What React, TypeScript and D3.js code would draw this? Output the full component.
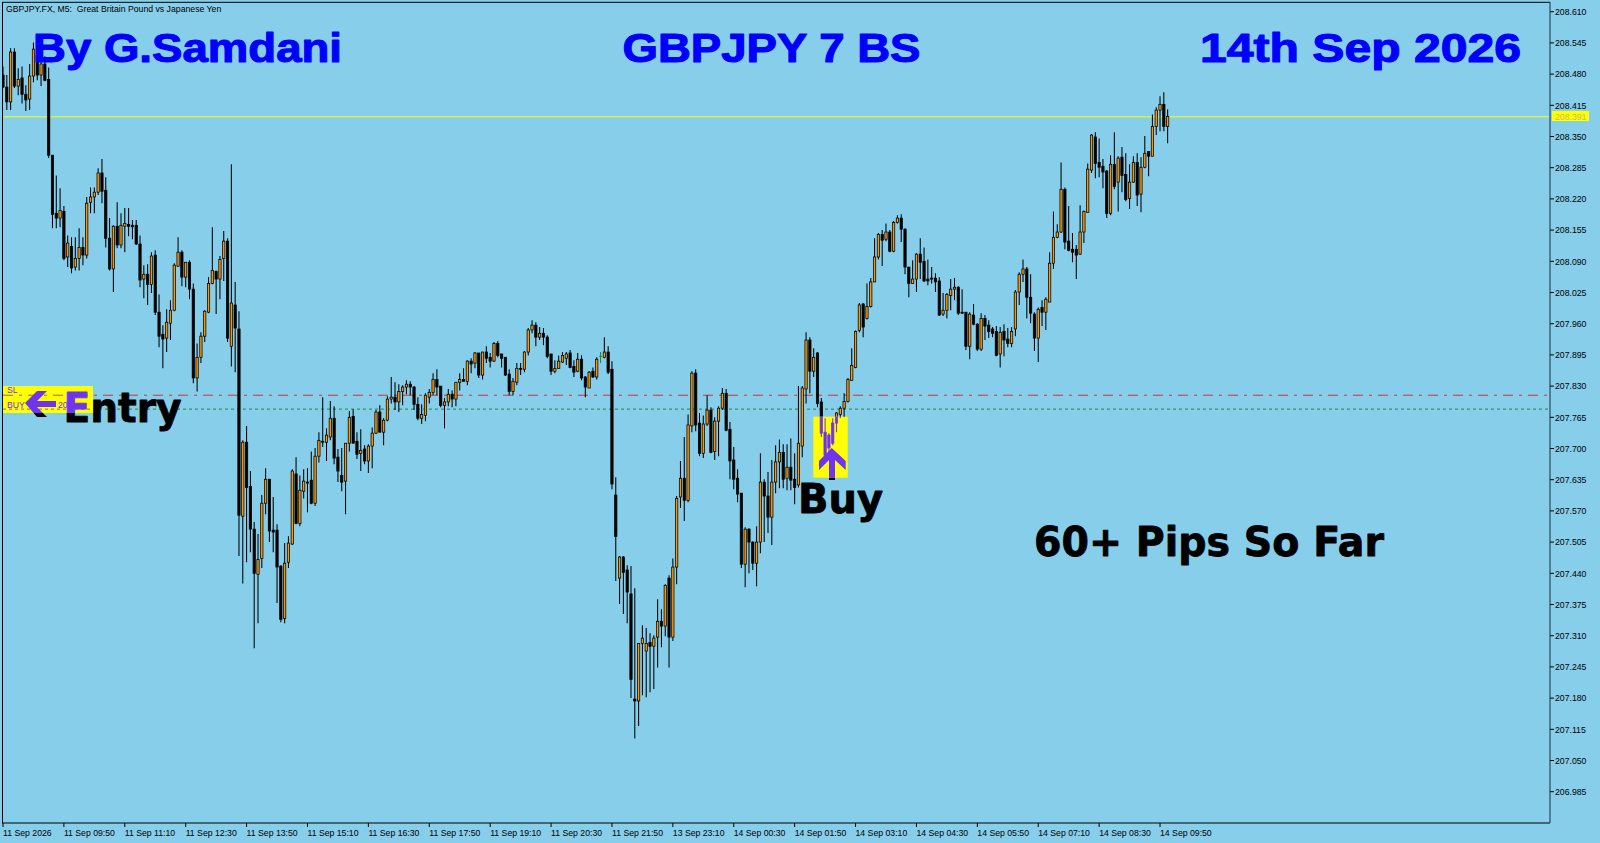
import React from "react";
import * as d3 from "d3";

const opens = [
208.478,208.453,208.422,208.526,208.455,208.472,208.438,208.428,208.476,208.519,
208.478,208.501,208.469,208.311,208.190,208.180,208.194,208.099,208.121,208.078,
208.096,208.119,208.103,208.213,208.224,208.234,208.274,208.238,208.138,208.074,
208.163,208.124,208.163,208.167,208.165,208.165,208.126,208.053,208.063,208.042,
208.103,207.984,207.938,207.930,207.961,207.988,208.080,208.109,208.057,208.088,
208.032,207.847,207.890,207.934,207.984,208.044,208.069,208.053,208.096,208.132,
207.913,207.999,207.949,207.559,207.713,207.621,207.532,207.438,207.471,207.586,
207.636,207.530,207.530,207.455,207.346,207.463,207.501,207.647,207.544,207.611,
207.630,207.634,207.586,207.684,207.715,207.713,207.724,207.763,207.682,207.644,
207.632,207.711,207.767,207.715,207.690,207.699,207.674,207.705,207.732,207.776,
207.734,207.759,207.803,207.807,207.797,207.819,207.828,207.834,207.828,207.792,
207.763,207.769,207.807,207.817,207.844,207.830,207.790,207.797,207.813,207.803,
207.838,207.844,207.840,207.882,207.878,207.899,207.853,207.901,207.890,207.882,
207.919,207.897,207.890,207.855,207.819,207.838,207.867,207.865,207.901,207.947,
207.957,207.932,207.940,207.932,207.897,207.861,207.867,207.880,207.888,207.899,
207.871,207.861,207.886,207.849,207.826,207.861,207.849,207.892,207.890,207.901,
207.865,207.603,207.430,207.474,207.447,207.397,207.178,207.174,207.294,207.278,
207.296,207.288,207.307,207.340,207.330,207.430,207.307,207.453,207.599,207.638,
207.592,207.747,207.857,207.753,207.690,207.751,207.780,207.694,207.757,207.784,
207.815,207.740,207.676,207.638,207.607,207.459,207.532,207.505,207.461,207.505,
207.630,207.601,207.557,207.630,207.672,207.692,207.638,207.661,207.636,207.624,
207.705,207.824,207.926,207.861,207.899,207.797,207.734,207.728,207.711,207.753,
207.771,207.784,207.798,207.842,207.869,207.946,208.001,207.971,207.996,208.047,
208.099,208.146,208.136,208.151,208.111,208.171,208.180,208.157,208.078,208.044,
208.053,208.105,208.090,208.053,208.055,208.055,208.049,207.980,207.988,208.019,
208.032,208.036,207.984,207.984,207.913,207.978,207.959,207.907,207.971,207.957,
207.949,207.944,207.897,207.944,207.928,207.919,207.949,208.026,208.063,208.074,
208.015,207.980,207.930,207.994,207.984,208.005,208.086,208.140,208.151,208.240,
208.132,208.115,208.115,208.105,208.151,208.192,208.280,208.349,208.296,208.288,
208.278,208.190,208.292,208.255,208.307,208.271,208.221,208.255,208.296,208.230,
208.286,208.319,208.309,208.371,208.405,208.417,208.371];

const highs = [
208.496,208.478,208.534,208.534,208.492,208.496,208.457,208.501,208.546,208.540,
208.515,208.517,208.494,208.311,208.269,208.242,208.205,208.144,208.140,208.140,
208.159,208.140,208.224,208.244,208.244,208.284,208.303,208.265,208.180,208.165,
208.213,208.190,208.201,208.201,208.176,208.176,208.144,208.082,208.084,208.109,
208.113,208.021,207.957,207.990,208.009,208.086,208.140,208.113,208.088,208.092,
208.044,207.919,207.942,207.988,208.057,208.161,208.071,208.101,208.153,208.138,
208.292,208.047,207.986,207.717,207.747,207.653,207.547,207.522,207.603,207.659,
207.636,207.599,207.542,207.457,207.503,207.517,207.657,207.682,207.644,207.657,
207.659,207.694,207.701,207.734,207.807,207.742,207.799,207.788,207.699,207.701,
207.711,207.778,207.782,207.734,207.740,207.707,207.709,207.744,207.780,207.790,
207.763,207.809,207.849,207.838,207.834,207.832,207.842,207.840,207.830,207.807,
207.792,207.815,207.824,207.857,207.865,207.830,207.805,207.824,207.821,207.838,
207.857,207.867,207.884,207.888,207.901,207.899,207.901,207.913,207.899,207.922,
207.924,207.897,207.890,207.865,207.847,207.878,207.878,207.903,207.951,207.967,
207.963,207.953,207.951,207.936,207.897,207.884,207.894,207.901,207.901,207.905,
207.884,207.899,207.894,207.851,207.861,207.869,207.890,207.901,207.932,207.913,
207.882,207.640,207.476,207.476,207.457,207.455,207.409,207.294,207.332,207.326,
207.315,207.311,207.386,207.365,207.417,207.436,207.471,207.601,207.674,207.724,
207.771,207.861,207.865,207.774,207.769,207.811,207.786,207.765,207.788,207.826,
207.824,207.755,207.703,207.657,207.607,207.536,207.534,207.507,207.538,207.690,
207.636,207.651,207.676,207.707,207.719,207.709,207.709,207.721,207.690,207.830,
207.830,207.942,207.932,207.909,207.901,207.805,207.763,207.732,207.763,207.776,
207.788,207.815,207.847,207.909,207.946,208.003,208.003,208.044,208.055,208.138,
208.149,208.155,208.169,208.155,208.174,208.186,208.188,208.159,208.078,208.092,
208.107,208.138,208.119,208.094,208.078,208.065,208.057,208.024,208.024,208.053,
208.055,208.038,208.032,207.984,207.984,208.001,207.961,207.982,207.978,207.967,
207.953,207.955,207.953,207.959,207.951,207.953,208.030,208.067,208.094,208.078,
208.063,207.984,207.994,208.009,208.015,208.109,208.194,208.167,208.296,208.244,
208.205,208.149,208.124,208.207,208.196,208.294,208.355,208.359,208.346,208.303,
208.280,208.311,208.359,208.309,208.328,208.315,208.292,208.309,208.315,208.307,
208.351,208.319,208.396,208.411,208.434,208.442,208.407];

const lows = [
208.451,208.405,208.405,208.451,208.436,208.419,208.403,208.405,208.463,208.467,
208.455,208.465,208.305,208.159,208.159,208.161,208.092,208.078,208.065,208.071,
208.071,208.082,208.096,208.190,208.190,208.228,208.211,208.119,208.071,208.026,
208.117,208.117,208.109,208.142,208.136,208.124,208.036,208.013,207.999,208.024,
207.978,207.911,207.867,207.901,207.926,207.986,208.078,208.038,208.036,208.011,
207.836,207.819,207.878,207.922,207.982,208.042,207.980,208.011,208.049,207.922,
207.871,207.859,207.476,207.419,207.463,207.484,207.284,207.336,207.451,207.563,
207.505,207.484,207.378,207.338,207.336,207.451,207.499,207.542,207.538,207.596,
207.567,207.584,207.580,207.671,207.703,207.674,207.717,207.667,207.630,207.611,
207.563,207.694,207.711,207.678,207.653,207.667,207.649,207.659,207.730,207.734,
207.707,207.757,207.794,207.780,207.776,207.790,207.813,207.811,207.780,207.759,
207.751,207.757,207.794,207.811,207.811,207.786,207.742,207.788,207.786,207.788,
207.821,207.840,207.832,207.857,207.867,207.847,207.844,207.878,207.869,207.880,
207.890,207.869,207.851,207.811,207.811,207.832,207.853,207.859,207.894,207.940,
207.913,207.926,207.915,207.888,207.853,207.857,207.867,207.878,207.874,207.867,
207.849,207.859,207.842,207.807,207.826,207.847,207.844,207.878,207.888,207.855,
207.615,207.424,207.376,207.355,207.336,207.180,207.096,207.122,207.186,207.182,
207.192,207.199,207.244,207.286,207.309,207.244,207.299,207.417,207.576,207.549,
207.588,207.734,207.736,207.684,207.680,207.747,207.690,207.676,207.684,207.780,
207.736,207.636,207.615,207.588,207.451,207.411,207.440,207.447,207.413,207.482,
207.505,207.524,207.499,207.607,207.617,207.617,207.613,207.613,207.584,207.619,
207.682,207.794,207.815,207.849,207.786,207.724,207.669,207.682,207.707,207.734,
207.763,207.765,207.796,207.842,207.867,207.942,207.932,207.969,207.994,208.047,
208.094,208.080,208.132,208.109,208.109,208.169,208.130,208.063,208.015,208.044,
208.026,208.053,208.047,208.040,208.044,208.026,207.976,207.976,207.971,207.988,
208.009,207.978,207.980,207.905,207.886,207.957,207.903,207.903,207.926,207.930,
207.932,207.892,207.869,207.892,207.911,207.911,207.934,207.999,208.047,207.971,
207.961,207.903,207.880,207.955,207.947,208.005,208.074,208.138,208.149,208.115,
208.111,208.088,208.053,208.103,208.128,208.192,208.274,208.263,208.265,208.242,
208.180,208.186,208.240,208.194,208.234,208.215,208.199,208.253,208.205,208.192,
208.284,208.267,208.309,208.353,208.361,208.361,208.336];

const closes = [
208.453,208.422,208.526,208.455,208.469,208.438,208.426,208.476,208.532,208.478,
208.501,208.467,208.311,208.188,208.180,208.196,208.096,208.128,208.076,208.096,
208.119,208.103,208.211,208.224,208.234,208.274,208.236,208.138,208.074,208.163,
208.124,208.165,208.169,208.163,208.162,208.126,208.051,208.063,208.042,208.101,
207.984,207.934,207.928,207.963,207.988,208.082,208.109,208.057,208.088,208.032,
207.847,207.890,207.934,207.986,208.044,208.071,208.053,208.094,208.132,207.930,
208.003,207.951,207.561,207.713,207.619,207.532,207.440,207.469,207.586,207.636,
207.528,207.526,207.453,207.344,207.461,207.503,207.653,207.544,207.613,207.632,
207.628,207.586,207.684,207.717,207.713,207.728,207.763,207.680,207.653,207.630,
207.711,207.765,207.711,207.688,207.696,207.674,207.705,207.732,207.776,207.734,
207.759,207.803,207.807,207.797,207.819,207.828,207.834,207.828,207.792,207.763,
207.771,207.811,207.817,207.844,207.828,207.790,207.797,207.813,207.803,207.838,
207.844,207.840,207.882,207.876,207.899,207.853,207.901,207.888,207.882,207.919,
207.894,207.888,207.853,207.819,207.840,207.867,207.865,207.901,207.947,207.957,
207.932,207.940,207.932,207.892,207.861,207.867,207.882,207.894,207.897,207.869,
207.859,207.886,207.847,207.828,207.859,207.849,207.886,207.892,207.901,207.859,
207.626,207.517,207.474,207.442,207.401,207.219,207.174,207.294,207.305,207.294,
207.288,207.305,207.340,207.330,207.415,207.307,207.453,207.596,207.638,207.592,
207.749,207.857,207.749,207.690,207.751,207.780,207.692,207.757,207.784,207.815,
207.738,207.674,207.636,207.605,207.459,207.532,207.505,207.461,207.505,207.630,
207.601,207.557,207.630,207.672,207.692,207.636,207.661,207.634,207.619,207.711,
207.826,207.926,207.861,207.890,207.794,207.732,207.686,207.701,207.753,207.774,
207.784,207.798,207.844,207.873,207.944,207.999,207.953,207.996,208.047,208.099,
208.146,208.134,208.151,208.111,208.171,208.180,208.157,208.078,208.044,208.053,
208.105,208.088,208.049,208.049,208.053,208.047,207.978,207.988,208.021,208.032,
208.036,207.982,207.982,207.913,207.980,207.959,207.907,207.971,207.955,207.944,
207.940,207.894,207.942,207.926,207.919,207.944,208.026,208.063,208.074,208.015,
207.982,207.930,207.990,207.984,208.011,208.086,208.140,208.151,208.240,208.130,
208.113,208.109,208.103,208.151,208.194,208.282,208.353,208.294,208.286,208.276,
208.190,208.292,208.246,208.305,208.269,208.219,208.255,208.296,208.228,208.286,
208.315,208.309,208.371,208.405,208.417,208.371,208.392];

const priceTicks = ["208.610","208.545","208.480","208.415","208.350","208.285","208.220","208.155","208.090","208.025","207.960","207.895","207.830","207.765","207.700","207.635","207.570","207.505","207.440","207.375","207.310","207.245","207.180","207.115","207.050","206.985"];
const timeTicks = ["11 Sep 2026","11 Sep 09:50","11 Sep 11:10","11 Sep 12:30","11 Sep 13:50","11 Sep 15:10","11 Sep 16:30","11 Sep 17:50","11 Sep 19:10","11 Sep 20:30","11 Sep 21:50","13 Sep 23:10","14 Sep 00:30","14 Sep 01:50","14 Sep 03:10","14 Sep 04:30","14 Sep 05:50","14 Sep 07:10","14 Sep 08:30","14 Sep 09:50"];
const barsPerTick = 16;
const lastPrice = 208.391;
const slPrice = 207.811;
const buyPrice = 207.782;

const SKY = "#87CEEB";
const PURPLE = "#7033EE";
const YELLOW = "#FFFF00";
const UI = "'Liberation Sans', Arial, sans-serif";

const x = d3.scaleLinear().domain([0, 306]).range([3, 3 + 3.806 * 306]);
const y = d3.scaleLinear().domain([208.61, 206.985]).range([11.7, 791.7]);

const entryBox = { x: 3, y: 386, w: 90, h: 27 };
const buyBox = { x: 813.3, y: 416.7, w: 34.4, h: 61 };
const leftArrow = "M25,403 L37,391 L47,391 L37,401 L56,401 L56,407 L37,407 L47,417 L37,417 Z";
const upArrow = "M831.7,448 L845.7,461 L845.7,470 L835,460 L835,480 L829,480 L829,460 L819,470 L819,461 Z";

function Candles({ tint }: { tint?: string }) {
  return (
    <g>
      {opens.map((o, i) => {
        const c = closes[i];
        const cx = x(i);
        const top = y(Math.max(o, c));
        const bot = y(Math.min(o, c));
        const up = c > o;
        const flat = c === o;
        const line = tint ?? (flat ? "#1f8a2c" : "#000");
        return (
          <g key={i}>
            <line x1={cx} x2={cx} y1={y(highs[i])} y2={y(lows[i])} stroke={line} strokeWidth={1.05} />
            {flat ? (
              <line x1={cx - 1.5} x2={cx + 1.5} y1={top} y2={top} stroke={line} strokeWidth={1} />
            ) : (
              <rect x={cx - 1.15} width={2.3} y={top} height={Math.max(bot - top, 0.6)}
                fill={tint ?? (up ? "#FF9500" : "#000")} stroke={line} strokeWidth={0.75} />
            )}
          </g>
        );
      })}
    </g>
  );
}

function Levels({ slColor, buyColor }: { slColor: string; buyColor: string }) {
  return (
    <g>
      <line x1={3} x2={1550} y1={y(slPrice)} y2={y(slPrice)} stroke={slColor} strokeWidth={1} strokeDasharray="10 6 3 6" />
      <line x1={3} x2={1550} y1={y(buyPrice)} y2={y(buyPrice)} stroke={buyColor} strokeWidth={1} strokeDasharray="3 3" />
    </g>
  );
}

const bold: React.CSSProperties = { fontFamily: "'DejaVu Sans', sans-serif", fontWeight: 700 };
const headBold: React.CSSProperties = { fontFamily: UI, fontWeight: 700 };

export default function App() {
  return (
    <svg width={1600} height={843} viewBox="0 0 1600 843"
      style={{ position: "fixed", left: 0, top: 0, display: "block" }}>
      <defs>
        <clipPath id="plot"><rect x={3} y={2} width={1547} height={821} /></clipPath>
        <clipPath id="entryClip"><rect {...{ x: entryBox.x, y: entryBox.y, width: entryBox.w, height: entryBox.h }} /></clipPath>
        <clipPath id="buyClip"><rect {...{ x: buyBox.x, y: buyBox.y, width: buyBox.w, height: buyBox.h }} /></clipPath>
        <linearGradient id="entryE" gradientUnits="userSpaceOnUse" x1={0} x2={0} y1={entryBox.y} y2={entryBox.y + entryBox.h}>
          <stop offset="0" stopColor={PURPLE} />
          <stop offset="1" stopColor={PURPLE} />
          <stop offset="1" stopColor="#000" />
        </linearGradient>
      </defs>
      <rect width={1600} height={843} fill={SKY} />

      <g clipPath="url(#plot)">
        <line x1={3} x2={1550} y1={y(lastPrice)} y2={y(lastPrice)} stroke={YELLOW} strokeWidth={1} />
        <Levels slColor="#C8373F" buyColor="#1F8A3C" />
        <Candles />
      </g>

      {/* black parts of the annotations, outside the yellow boxes */}
      <path d={leftArrow} fill="#000" />
      <path d={upArrow} fill="#000" />

      <g stroke="#0000FF" strokeWidth={1.1} strokeLinejoin="round">
        <text x={33} y={62} fontSize={41} fill="#0000FF" style={headBold} textLength={309} lengthAdjust="spacingAndGlyphs">By G.Samdani</text>
        <text x={622.5} y={62} fontSize={41} fill="#0000FF" style={headBold} textLength={298} lengthAdjust="spacingAndGlyphs">GBPJPY 7 BS</text>
        <text x={1200} y={62} fontSize={41} fill="#0000FF" style={headBold} textLength={321} lengthAdjust="spacingAndGlyphs">14th Sep 2026</text>
      </g>

      <g stroke="#000" strokeWidth={0.8} strokeLinejoin="round">
        <text x={798} y={513} fontSize={40} fill="#000" style={bold} textLength={85} lengthAdjust="spacingAndGlyphs">Buy</text>
        <text x={1034} y={556} fontSize={40} fill="#000" style={bold} textLength={350} lengthAdjust="spacingAndGlyphs">60+ Pips So Far</text>
      </g>

      {/* yellow boxes, where everything underneath turns purple */}
      <rect x={entryBox.x} y={entryBox.y} width={entryBox.w} height={entryBox.h} fill={YELLOW} />
      <rect x={buyBox.x} y={buyBox.y} width={buyBox.w} height={buyBox.h} fill={YELLOW} />
      <g clipPath="url(#entryClip)">
        <Levels slColor="#8A6A9A" buyColor="#8A6A9A" />
        <text x={7} y={393} fontSize={8.7} fill={PURPLE} fontFamily={UI}>SL</text>
        <text x={7} y={408} fontSize={8.7} fill={PURPLE} fontFamily={UI}>BUY</text>
        <text x={58} y={408} fontSize={8.7} fill={PURPLE} fontFamily={UI}>20</text>
        <path d={leftArrow} fill={PURPLE} />
      </g>
      <g clipPath="url(#buyClip)">
        <Candles tint={PURPLE} />
        <path d={upArrow} fill={PURPLE} />
      </g>

      {/* one word, with its first letter purple inside the box and black below it */}
      <text x={63.5} y={422} fontSize={40} style={bold} textLength={118} lengthAdjust="spacingAndGlyphs" strokeWidth={0.8} strokeLinejoin="round">
        <tspan fill="url(#entryE)" stroke="url(#entryE)">E</tspan>
        <tspan fill="#000" stroke="#000">ntry</tspan>
      </text>

      {/* frame */}
      <line x1={2.5} x2={2.5} y1={2} y2={823} stroke="#000" strokeWidth={1} />
      <line x1={2} x2={1550} y1={2.3} y2={2.3} stroke="#000" strokeWidth={1} />
      <line x1={2} x2={1550} y1={823} y2={823} stroke="#000" strokeWidth={1} />
      <line x1={1550} x2={1550} y1={2} y2={823} stroke="#2B4A5A" strokeWidth={1.2} />

      <text x={6} y={12} fontSize={8.7} fill="#000" fontFamily={UI} xmlSpace="preserve">GBPJPY.FX, M5:  Great Britain Pound vs Japanese Yen</text>

      {priceTicks.map((t) => {
        const py = y(+t);
        return (
          <g key={t}>
            <line x1={1550} x2={1554} y1={py} y2={py} stroke="#000" strokeWidth={1} />
            <text x={1555} y={py + 3.2} fontSize={8.7} fill="#000" fontFamily={UI}>{t}</text>
          </g>
        );
      })}
      {timeTicks.map((t, k) => {
        const tx = x(k * barsPerTick);
        return (
          <g key={t}>
            <line x1={tx} x2={tx} y1={823} y2={827} stroke="#000" strokeWidth={1} />
            <text x={tx} y={835.5} fontSize={8.7} fill="#000" fontFamily={UI}>{t}</text>
          </g>
        );
      })}

      <rect x={1552} y={111} width={37} height={10} fill={YELLOW} />
      <text x={1555} y={y(lastPrice) + 3.2} fontSize={8.7} fill="#C9BE55" fontFamily={UI}>{lastPrice.toFixed(3)}</text>
    </svg>
  );
}
